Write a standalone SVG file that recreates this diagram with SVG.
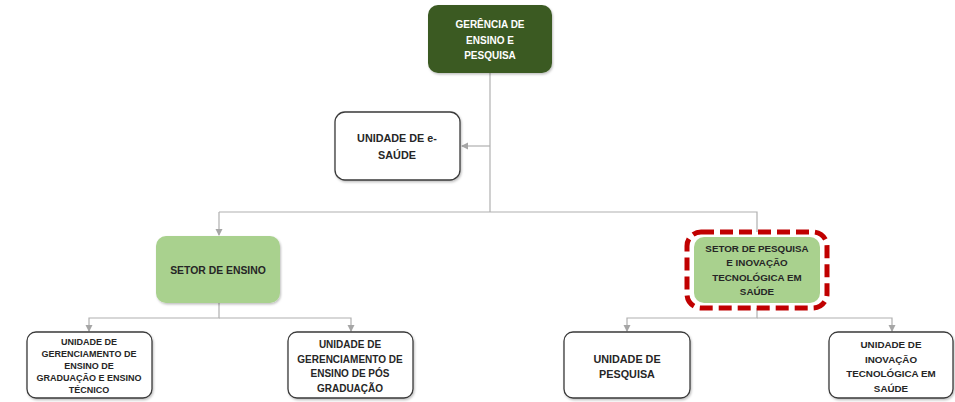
<svg xmlns="http://www.w3.org/2000/svg" width="955" height="402" viewBox="0 0 955 402">
<style>
text{font-family:"Liberation Sans",Arial,sans-serif;font-weight:bold;text-anchor:middle;fill:#262626}
.w{fill:#fff;stroke:#3a3a3a;stroke-width:1.3}
.lg{fill:#a9d18e;stroke:none}
.dg{fill:#3b5a23;stroke:none}
.c{fill:none;stroke:#b0b0b0;stroke-width:1.2}
</style>
<defs>
<marker id="ah" markerWidth="8" markerHeight="8" refX="6" refY="4" orient="auto" markerUnits="userSpaceOnUse">
<path d="M0,0.5 L7,4 L0,7.5 z" fill="#a6a6a6"/>
</marker>
<filter id="sh" x="-10%" y="-10%" width="125%" height="130%">
<feDropShadow dx="1" dy="1.5" stdDeviation="1.2" flood-color="#000" flood-opacity="0.25"/>
</filter>
</defs>
<rect width="955" height="402" fill="#fff"/>
<g id="connectors">
<path class="c" d="M490,73 V212"/>
<path class="c" d="M490,146 H462" marker-end="url(#ah)"/>
<path class="c" d="M219,212 H757 V232"/>
<path class="c" d="M219,212 V235" marker-end="url(#ah)"/>
<path class="c" d="M219,303 V318 H89 V331" marker-end="url(#ah)"/>
<path class="c" d="M219,318 H351 V331" marker-end="url(#ah)"/>
<path class="c" d="M757,308 V318 H627 V331" marker-end="url(#ah)"/>
<path class="c" d="M757,318 H892 V331" marker-end="url(#ah)"/>
</g>
<g id="gerencia" style="font-size:10px">
<rect class="dg" x="428" y="5" width="124" height="68" rx="10" filter="url(#sh)"/>
<text style="fill:#fff" x="490" y="28">GERÊNCIA DE</text>
<text style="fill:#fff" x="490" y="43.5">ENSINO E</text>
<text style="fill:#fff" x="490" y="59">PESQUISA</text>
</g>
<g id="esaude" style="font-size:10.8px">
<rect class="w" x="335" y="112" width="125" height="68" rx="10" filter="url(#sh)"/>
<text x="397" y="142">UNIDADE DE e-</text>
<text x="397" y="159">SAÚDE</text>
</g>
<g id="setor-ensino" style="font-size:10.4px">
<rect class="lg" x="156" y="236" width="124" height="67" rx="10" filter="url(#sh)"/>
<text x="218" y="273.5">SETOR DE ENSINO</text>
</g>
<g id="setor-pesquisa" style="font-size:9.8px">
<rect class="lg" x="694" y="237" width="126" height="66" rx="10"/>
<rect x="687" y="232" width="140" height="76" rx="14" fill="none" stroke="#c00000" stroke-width="5" stroke-dasharray="13 6"/>
<text x="757" y="251.5">SETOR DE PESQUISA</text>
<text x="757" y="266">E INOVAÇÃO</text>
<text x="757" y="280.5">TECNOLÓGICA EM</text>
<text x="757" y="295">SAÚDE</text>
</g>
<g id="unid-graduacao" style="font-size:9px">
<rect class="w" x="27" y="332" width="125" height="66" rx="9" filter="url(#sh)"/>
<text x="89" y="344.5">UNIDADE DE</text>
<text x="89" y="356.5">GERENCIAMENTO DE</text>
<text x="89" y="368.5">ENSINO DE</text>
<text x="89" y="380.5">GRADUAÇÃO E ENSINO</text>
<text x="89" y="392.5">TÉCNICO</text>
</g>
<g id="unid-pos" style="font-size:10px">
<rect class="w" x="288" y="332" width="125" height="66" rx="9" filter="url(#sh)"/>
<text x="350" y="348">UNIDADE DE</text>
<text x="350" y="362.5">GERENCIAMENTO DE</text>
<text x="350" y="377">ENSINO DE PÓS</text>
<text x="350" y="391.5">GRADUAÇÃO</text>
</g>
<g id="unid-pesquisa" style="font-size:10.8px">
<rect class="w" x="564" y="332" width="126" height="66" rx="9" filter="url(#sh)"/>
<text x="627" y="362.5">UNIDADE DE</text>
<text x="627" y="377.5">PESQUISA</text>
</g>
<g id="unid-inovacao" style="font-size:9.8px">
<rect class="w" x="829" y="332" width="124" height="66" rx="9" filter="url(#sh)"/>
<text x="891" y="348">UNIDADE DE</text>
<text x="891" y="362.5">INOVAÇÃO</text>
<text x="891" y="377">TECNOLÓGICA EM</text>
<text x="891" y="391.5">SAÚDE</text>
</g>
</svg>
